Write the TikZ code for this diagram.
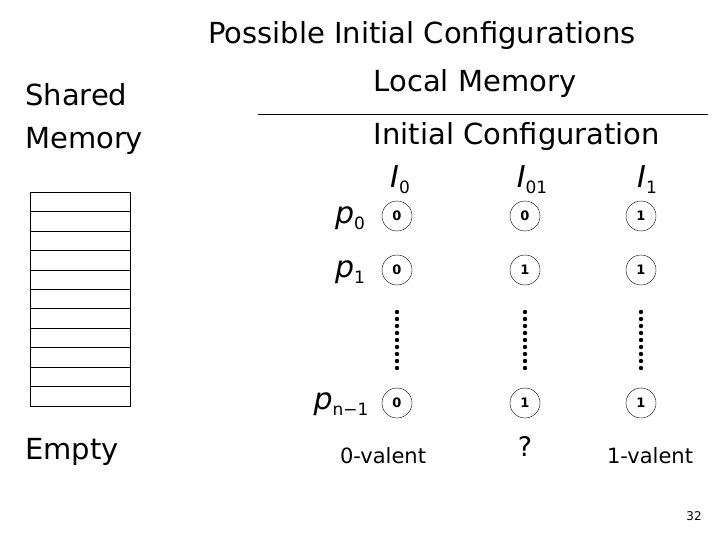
\documentclass[tikz,border=0pt]{standalone}
\usepackage{fontspec}
\setmainfont{DejaVu Sans}
\newcommand\mysub[1]{\raisebox{-6pt}{\upshape\fontsize{17}{18}\selectfont #1}}
\begin{document}
\begin{tikzpicture}[x=1pt,y=-1pt,
  big/.style={font=\fontsize{29}{32}\selectfont,inner sep=0},
  val/.style={circle,inner sep=0,font=\bfseries\fontsize{13}{14}\selectfont},
  cell/.style={draw,minimum width=100pt,minimum height=19.45pt,inner sep=0},
  lab/.style={font=\itshape\fontsize{30}{32}\selectfont,inner sep=0}]
\useasboundingbox (0,0) rectangle (720,540);
\node[big] (t1) at (422,36) {Possible Initial Configurations};
\node[big] (t2) at (475,84) {Local Memory};
\coordinate (la) at (258,114); \coordinate (lb) at (708,114);
\draw (la) -- (lb);
\node[big] (t3) at (517,137) {Initial Configuration};
\node[big,anchor=west] (sh) at (25,95) {Shared};
\node[big,anchor=west] (me) at (25,141) {Memory};
\node[big,anchor=west] (em) at (25,452) {Empty};
\foreach \i in {0,...,10} \node[cell] (c\i) at (80,{201.7+\i*19.45}) {};
\node[lab] (I0) at (400,180) {I\mysub{0}};
\node[lab] (I01) at (532,180) {I\mysub{01}};
\node[lab] (I1) at (647,180) {I\mysub{1}};
\node[lab] (p0) at (350,218) {p\mysub{0}};
\node[lab] (p1) at (350,272) {p\mysub{1}};
\node[lab] (pn) at (341,404) {p\mysub{n−1}};
\foreach \x/\n/\a/\b/\c in {397/A/0/0/0,525/B/0/1/1,641/C/1/1/1}{
  \node[val] (\n0) at (\x,216) {\a};
  \node[val] (\n1) at (\x,270) {\b};
  \node[val] (\n2) at (\x,403) {\c};
  \foreach \m in {0,1,2} \draw (\n\m.center) circle (15pt);
  \foreach \k in {0,...,8} \fill (\x,{312+\k*7}) circle (2.2pt);
}
\node[font=\fontsize{21}{24}\selectfont] (v0) at (383,456) {0-valent};
\node[font=\fontsize{27}{28}\selectfont] (q) at (525,446) {?};
\node[font=\fontsize{21}{24}\selectfont] (v1) at (650,456) {1-valent};
\node[font=\fontsize{12}{14}\selectfont] (pg) at (694,516) {32};
\end{tikzpicture}
\end{document}
